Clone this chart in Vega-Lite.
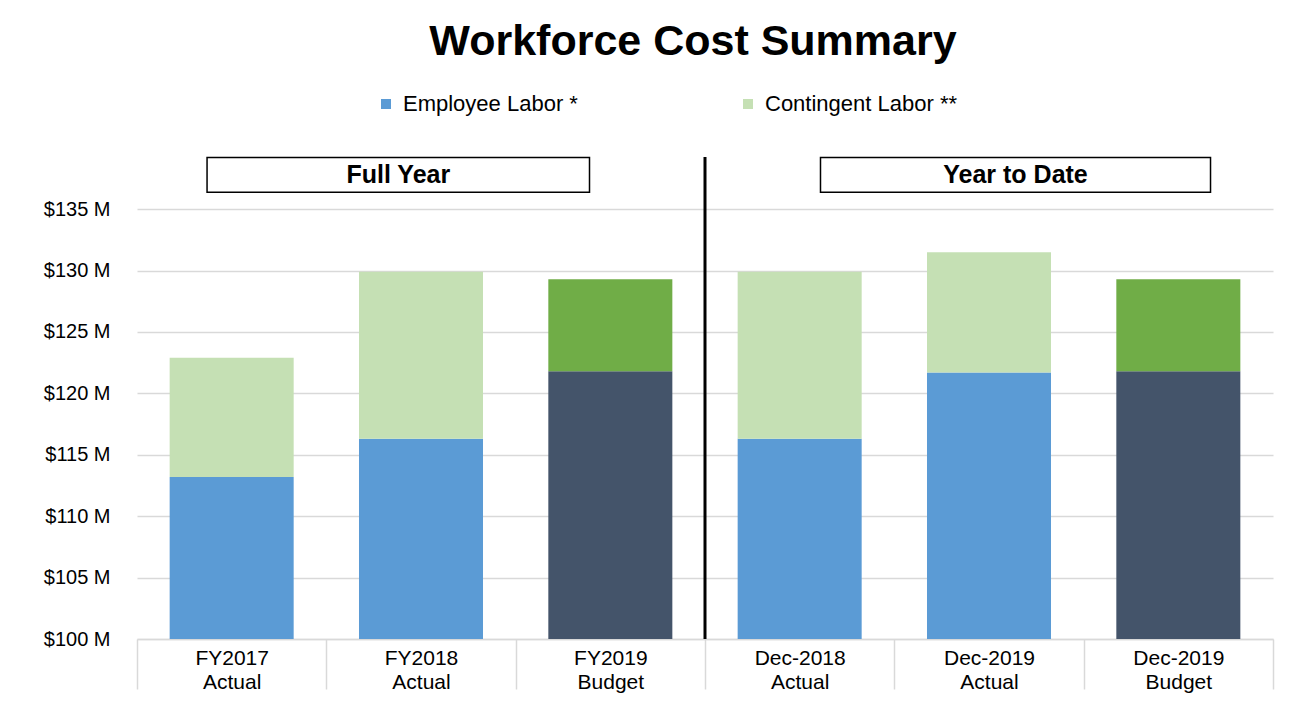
{
  "$schema": "https://vega.github.io/schema/vega-lite/v6.json",
  "width": 1136,
  "height": 482,
  "autosize": {"type": "none"},
  "padding": {"left": 137, "top": 157, "right": 16, "bottom": 65},
  "background": "white",
  "config": {"view": {"stroke": null}, "font": "Liberation Sans"},
  "title": {"text": "Workforce Cost Summary", "fontSize": 43, "fontWeight": "bold", "font": "Liberation Sans", "color": "#000", "anchor": "middle", "dx": -12, "offset": 29},
  "datasets": {
    "bars": [
      {"cat": "FY2017|Actual", "series": "Employee Labor *", "ord": 1, "value": 113.2},
      {"cat": "FY2017|Actual", "series": "Contingent Labor **", "ord": 2, "value": 9.7},
      {"cat": "FY2018|Actual", "series": "Employee Labor *", "ord": 1, "value": 116.3},
      {"cat": "FY2018|Actual", "series": "Contingent Labor **", "ord": 2, "value": 13.6},
      {"cat": "FY2019|Budget", "series": "Budget Employee", "ord": 1, "value": 121.8},
      {"cat": "FY2019|Budget", "series": "Budget Contingent", "ord": 2, "value": 7.5},
      {"cat": "Dec-2018|Actual", "series": "Employee Labor *", "ord": 1, "value": 116.3},
      {"cat": "Dec-2018|Actual", "series": "Contingent Labor **", "ord": 2, "value": 13.6},
      {"cat": "Dec-2019|Actual", "series": "Employee Labor *", "ord": 1, "value": 121.7},
      {"cat": "Dec-2019|Actual", "series": "Contingent Labor **", "ord": 2, "value": 9.8},
      {"cat": "Dec-2019|Budget", "series": "Budget Employee", "ord": 1, "value": 121.8},
      {"cat": "Dec-2019|Budget", "series": "Budget Contingent", "ord": 2, "value": 7.5}
    ],
    "groups": [
      {"label": "Full Year", "start": "FY2017|Actual", "mid": "FY2018|Actual", "end": "FY2019|Budget"},
      {"label": "Year to Date", "start": "Dec-2018|Actual", "mid": "Dec-2019|Actual", "end": "Dec-2019|Budget"}
    ]
  },
  "layer": [
    {
      "data": {"name": "bars"},
      "mark": {"type": "bar", "clip": true, "width": {"band": 0.655}},
      "encoding": {
        "x": {
          "field": "cat", "type": "nominal",
          "scale": {"domain": ["FY2017|Actual", "FY2018|Actual", "FY2019|Budget", "Dec-2018|Actual", "Dec-2019|Actual", "Dec-2019|Budget"], "paddingInner": 0, "paddingOuter": 0},
          "axis": {
            "title": null, "labelAngle": 0, "labelExpr": "split(datum.label, '|')",
            "labelFontSize": 21, "labelColor": "#000", "labelLineHeight": 24, "labelBaseline": "top", "labelLimit": 300,
            "tickBand": "extent", "tickSize": 50, "tickColor": "#d9d9d9", "tickWidth": 1.5,
            "domainColor": "#d9d9d9", "domainWidth": 1.5, "labelPadding": -42, "grid": false
          }
        },
        "y": {
          "field": "value", "type": "quantitative", "stack": "zero",
          "scale": {"domain": [100, 139.25], "nice": false, "zero": false},
          "axis": {
            "title": null, "values": [100, 105, 110, 115, 120, 125, 130, 135],
            "labelExpr": "'$' + datum.value + ' M'", "labelFontSize": 20, "labelColor": "#000",
            "domain": false, "ticks": false, "labelPadding": 27,
            "gridColor": "#d9d9d9", "gridWidth": 1.5
          }
        },
        "color": {
          "field": "series", "type": "nominal",
          "scale": {"domain": ["Employee Labor *", "Contingent Labor **", "Budget Employee", "Budget Contingent"], "range": ["#5B9BD5", "#C5E0B4", "#44546A", "#70AD47"]},
          "legend": {
            "title": null, "orient": "none", "legendX": 238, "legendY": -64, "direction": "horizontal", "columns": 2,
            "values": ["Employee Labor *", "Contingent Labor **"], "symbolType": "square", "symbolSize": 100,
            "symbolStrokeWidth": 0, "labelFontSize": 22, "labelColor": "#000", "columnPadding": 159, "labelOffset": 6, "labelLimit": 400
          }
        },
        "order": {"field": "ord", "type": "quantitative"}
      }
    },
    {
      "data": {"name": "groups"},
      "transform": [{"filter": "datum.label === 'Year to Date'"}],
      "mark": {"type": "rule", "color": "#000", "strokeWidth": 3},
      "encoding": {"x": {"field": "start", "type": "nominal", "bandPosition": 0}}
    },
    {
      "data": {"name": "groups"},
      "transform": [{"filter": "datum.label === 'Full Year'"}],
      "mark": {"type": "rect", "fill": "white", "stroke": "#000", "strokeWidth": 1.5},
      "encoding": {
        "x": {"field": "start", "type": "nominal", "bandPosition": 0.37},
        "x2": {"field": "end", "bandPosition": 0.39},
        "y": {"datum": 139.2},
        "y2": {"datum": 136.38}
      }
    },
    {
      "data": {"name": "groups"},
      "transform": [{"filter": "datum.label === 'Year to Date'"}],
      "mark": {"type": "rect", "fill": "white", "stroke": "#000", "strokeWidth": 1.5},
      "encoding": {
        "x": {"field": "start", "type": "nominal", "bandPosition": 0.61},
        "x2": {"field": "end", "bandPosition": 0.67},
        "y": {"datum": 139.2},
        "y2": {"datum": 136.38}
      }
    },
    {
      "data": {"name": "groups"},
      "transform": [{"filter": "datum.label === 'Full Year'"}],
      "mark": {"type": "text", "fontSize": 25, "fontWeight": "bold", "color": "#000", "baseline": "middle", "align": "center"},
      "encoding": {
        "x": {"field": "mid", "type": "nominal", "bandPosition": 0.38},
        "y": {"datum": 137.8},
        "text": {"field": "label"}
      }
    },
    {
      "data": {"name": "groups"},
      "transform": [{"filter": "datum.label === 'Year to Date'"}],
      "mark": {"type": "text", "fontSize": 25, "fontWeight": "bold", "color": "#000", "baseline": "middle", "align": "center"},
      "encoding": {
        "x": {"field": "mid", "type": "nominal", "bandPosition": 0.64},
        "y": {"datum": 137.8},
        "text": {"field": "label"}
      }
    }
  ]
}
